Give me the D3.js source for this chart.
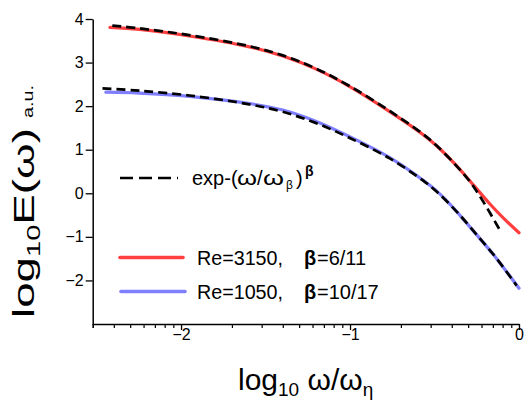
<!DOCTYPE html>
<html>
<head>
<meta charset="utf-8">
<script src="https://cdn.jsdelivr.net/npm/d3@7"></script>
<style>
  html, body { margin: 0; padding: 0; background: #fff; }
  svg { display: block; }
  text { font-family: "Liberation Sans", Arial, Helvetica, sans-serif; fill: #000; }
</style>
</head>
<body>
<svg id="chart" width="525" height="403"></svg>
<script>
// Spectra E(ω) for two Reynolds numbers (log10 ω/ωη, log10 E)
const redX  = [-2.421, -2.247, -1.951, -1.595, -1.398, -1.200, -1.002, -0.765, -0.567, -0.488, -0.369, -0.291, -0.172, -0.083, 0.000];
const redY  = [ 3.808,  3.760,  3.610,  3.360,  3.150,  2.850,  2.450,  1.875,  1.345,  1.090,  0.630,  0.285, -0.245, -0.605, -0.905];
const blueX = [-2.445, -2.247, -1.951, -1.595, -1.398, -1.200, -1.002, -0.765, -0.567, -0.488, -0.429, -0.369, -0.291, -0.231, -0.172, -0.132, 0.000];
const blueY = [ 2.320,  2.300,  2.225,  2.060,  1.910,  1.650,  1.300,  0.820,  0.300,  0.055, -0.170, -0.420, -0.770, -1.040, -1.310, -1.500, -2.180];

// Stretched-exponential fits exp-(ω/ωβ)^β
const fitRedX  = [-2.407, -2.247, -1.951, -1.595, -1.398, -1.200, -1.002, -0.765, -0.567, -0.488, -0.369, -0.291, -0.212, -0.113];
const fitRedY  = [ 3.850,  3.785,  3.630,  3.375,  3.165,  2.860,  2.460,  1.890,  1.355,  1.095,  0.625,  0.270, -0.190, -0.847];
const fitBlueX = [-2.465, -2.247, -1.951, -1.595, -1.398, -1.200, -1.002, -0.765, -0.567, -0.488, -0.369, -0.231, -0.132, -0.014];
const fitBlueY = [ 2.410,  2.355,  2.245,  2.040,  1.870,  1.610,  1.270,  0.800,  0.290,  0.040, -0.420, -1.040, -1.500, -2.120];

const xTicks = [-2, -1, 0];
const yTicks = [-2, -1, 0, 1, 2, 3, 4];
const xDomain = [Math.log10(0.003), 0];
const yDomain = [-3, 4];

const svg = d3.select("#chart");
const x = d3.scaleLinear().domain(xDomain).range([92.7, 519]);
const y = d3.scaleLinear().domain(yDomain).range([324, 19]);

// minor ticks at k·10^e in log space
const minorTicks = [];
for (let e = -3; e < 0; e++) {
  for (let k = 2; k <= 9; k++) {
    const v = Math.log10(k * Math.pow(10, e));
    if (v >= xDomain[0] - 1e-9 && v <= 0) minorTicks.push(v);
  }
}
minorTicks.push(xDomain[0]);

// x axis
const gx = svg.append("g").attr("transform", `translate(0,${y(-3)})`);
gx.call(d3.axisBottom(x).tickValues(minorTicks).tickSize(4).tickSizeOuter(0).tickFormat(""));
gx.selectAll(".tick line").attr("stroke-width", 1.2);
gx.select(".domain").attr("stroke-width", 1.5);
const gxMaj = svg.append("g").attr("transform", `translate(0,${y(-3)})`);
gxMaj.call(d3.axisBottom(x).tickValues(xTicks).tickSize(6).tickSizeOuter(0).tickPadding(0)
  .tickFormat(d3.format("d")));
gxMaj.select(".domain").remove();
gxMaj.selectAll(".tick line").attr("stroke-width", 1.3);
gxMaj.selectAll(".tick text").attr("font-size", 16).attr("y", 5).attr("dy", "0.71em")
  .attr("font-family", "Liberation Sans, Arial, sans-serif").attr("fill", "#000");

// y axis
const gy = svg.append("g").attr("transform", `translate(${x(xDomain[0])},0)`);
gy.call(d3.axisLeft(y).tickValues(yTicks).tickSize(7).tickSizeOuter(0).tickPadding(2)
  .tickFormat(d3.format("d")));
gy.select(".domain").attr("stroke-width", 1.5);
gy.selectAll(".tick line").attr("stroke-width", 1.3);
gy.selectAll(".tick text").attr("font-size", 16)
  .attr("font-family", "Liberation Sans, Arial, sans-serif").attr("fill", "#000");

const line = (xs, ys) => d3.line()
  .x((d, i) => x(xs[i])).y((d, i) => y(ys[i]))
  .curve(d3.curveCatmullRom.alpha(0.5))(xs);

// measured spectra
svg.append("path").attr("d", line(redX, redY))
  .attr("fill", "none").attr("stroke", "#ff3f3f").attr("stroke-width", 3.2).attr("stroke-linecap", "round");
svg.append("path").attr("d", line(blueX, blueY))
  .attr("fill", "none").attr("stroke", "#7f7fff").attr("stroke-width", 3.2).attr("stroke-linecap", "round");

// fits
[[fitRedX, fitRedY], [fitBlueX, fitBlueY]].forEach(([xs, ys]) => {
  svg.append("path").attr("d", line(xs, ys))
    .attr("fill", "none").attr("stroke", "#000").attr("stroke-width", 2.7)
    .attr("stroke-dasharray", "9,5");
});

// legend
const leg = svg.append("g");
const txt = (xp, yp, s, size, extra) => {
  const t = leg.append("text").attr("x", xp).attr("y", yp).attr("font-size", size).text(s);
  if (extra) extra(t);
  return t;
};
leg.append("line").attr("x1", 120).attr("x2", 178).attr("y1", 178).attr("y2", 178)
  .attr("stroke", "#000").attr("stroke-width", 2.7).attr("stroke-dasharray", "13,6");
txt(192, 185, "exp-(", 20);
txt(237, 185, "ω", 20, t => t.attr("textLength", 20).attr("lengthAdjust", "spacingAndGlyphs"));
txt(257, 185, "/", 20);
txt(263, 185, "ω", 20, t => t.attr("textLength", 21).attr("lengthAdjust", "spacingAndGlyphs"));
txt(286, 189, "β", 12);
txt(296, 185, ")", 20);
txt(305, 176, "β", 14, t => t.attr("font-weight", "bold"));

leg.append("line").attr("x1", 120).attr("x2", 183).attr("y1", 257.5).attr("y2", 257.5)
  .attr("stroke", "#ff3f3f").attr("stroke-width", 3.6).attr("stroke-linecap", "round");
txt(197, 264.5, "Re=3150,", 20, t => t.attr("textLength", 86).attr("lengthAdjust", "spacingAndGlyphs"));
txt(304, 264.5, "β", 20, t => t.attr("font-weight", "bold"));
txt(317, 264.5, "=6/11", 20);

leg.append("line").attr("x1", 121).attr("x2", 185).attr("y1", 291.5).attr("y2", 291.5)
  .attr("stroke", "#7f7fff").attr("stroke-width", 3.6).attr("stroke-linecap", "round");
txt(197, 298.5, "Re=1050,", 20, t => t.attr("textLength", 86).attr("lengthAdjust", "spacingAndGlyphs"));
txt(304, 298.5, "β", 20, t => t.attr("font-weight", "bold"));
txt(317, 298.5, "=10/17", 20);

// axis titles
const xt = svg.append("text").attr("x", 238).attr("y", 390).attr("font-size", 30);
xt.append("tspan").text("log");
xt.append("tspan").attr("font-size", 19).attr("dy", 6).text("10");
xt.append("tspan").attr("dy", -6).text(" ω/ω");
xt.append("tspan").attr("font-size", 19).attr("dy", 6).text("η");

const yt = svg.append("text").attr("transform", "translate(34,318) rotate(-90)").attr("font-size", 30)
  .attr("textLength", 190).attr("lengthAdjust", "spacingAndGlyphs");
yt.append("tspan").text("log");
yt.append("tspan").attr("font-size", 19).attr("dy", 6).text("10");
yt.append("tspan").attr("dy", -6).text("E(ω)");
svg.append("text").attr("transform", "translate(33,118) rotate(-90)").attr("font-size", 15)
  .attr("textLength", 33).attr("lengthAdjust", "spacingAndGlyphs").text("a.u.");
</script>
</body>
</html>
